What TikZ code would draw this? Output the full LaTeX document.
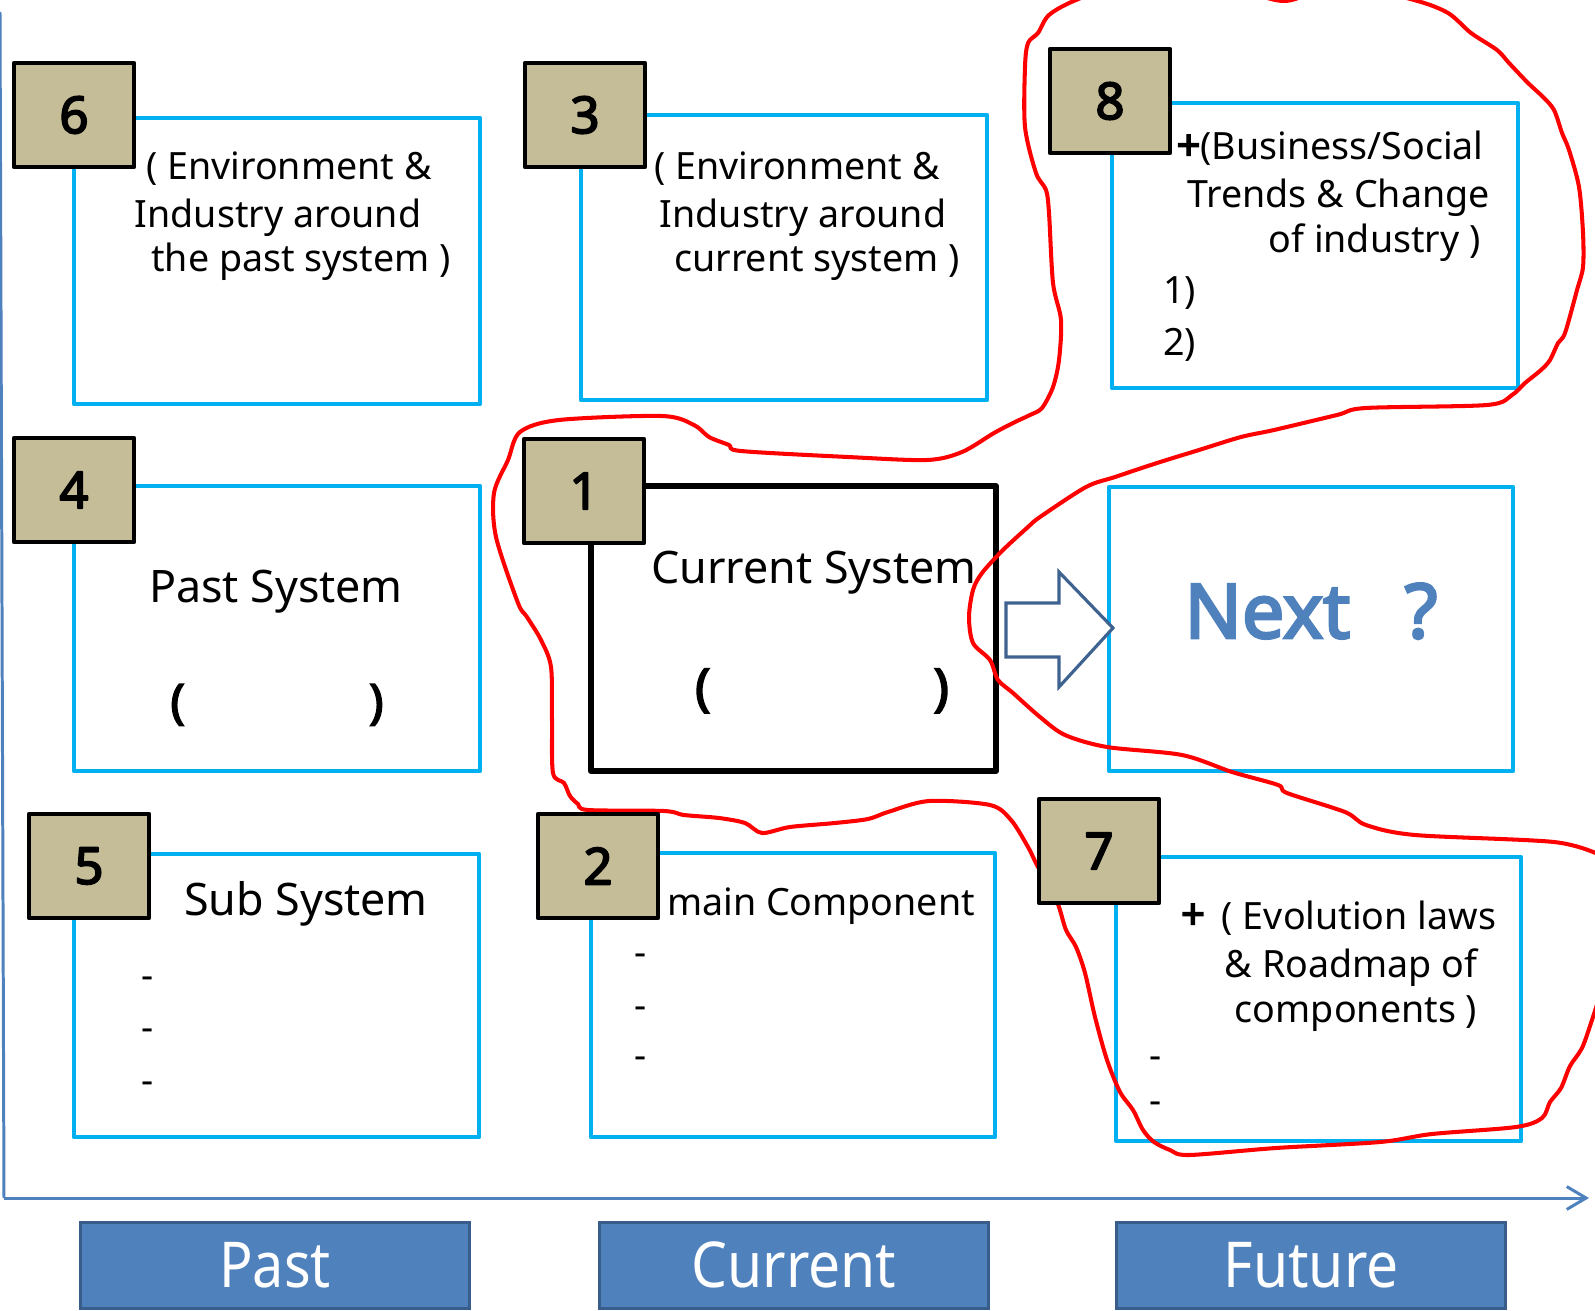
\documentclass[tikz,border=0pt]{standalone}
\usepackage{fontspec}
\setmainfont{Noto Sans}[AutoFakeBold=3.4]
\usepackage{graphicx}
\usetikzlibrary{arrows.meta}
\definecolor{cyanline}{HTML}{00B0F0}
\definecolor{sqfill}{HTML}{C4BD97}
\definecolor{accent}{HTML}{4F81BD}
\definecolor{btnborder}{HTML}{385D8A}
\definecolor{arrowblue}{HTML}{3F6391}
\definecolor{handred}{HTML}{FF0000}
\begin{document}
\begin{tikzpicture}[x=0.02cm,y=-0.02cm,
  bluebox/.style={draw=cyanline, line width=2.4pt, line join=round},
  blackbox/.style={draw=black, line width=3.4pt, line join=round},
  numsq/.style={draw=black, fill=sqfill, line width=2.6pt, line join=round,
    minimum width=2.4cm, minimum height=2.08cm, inner sep=0,
    font=\fontsize{29}{34}\selectfont\bfseries},
  txt/.style={inner sep=0, anchor=base, font=\fontsize{21.4}{26}\selectfont},
  bigtxt/.style={inner sep=0, anchor=base, font=\fontsize{25.5}{30}\selectfont},
  parens/.style={inner sep=0, anchor=base, font=\fontsize{27}{30}\selectfont\bfseries},
  dashtxt/.style={inner sep=0, anchor=mid, font=\fontsize{21.4}{26}\selectfont},
  handline/.style={draw=handred, line width=2.3pt, line join=round, line cap=round},
  axisline/.style={draw=accent, line width=1.7pt},
  btn/.style={draw=btnborder, fill=accent, line width=1.7pt, minimum width=7.78cm,
    minimum height=1.72cm, inner sep=0, text=white, font=\fontsize{36}{40}\selectfont},
  blockarrow/.style={draw=arrowblue, fill=white, line width=1.8pt, line join=miter}
]
\useasboundingbox (0,0) rectangle (1595,1311);
\fill[white] (0,0) rectangle (1595,1311);

% axes
\coordinate (org) at (4,1198);
\coordinate (xend) at (1589,1198);
\coordinate (ytop) at (0,12);
\draw[axisline] (org) -- (ytop);
\draw[axisline, -{Straight Barb[length=11pt,width=13pt]}] (org) -- (xend);

% content boxes
\draw[bluebox] (74,118) rectangle (480,404);
\draw[bluebox] (581,115) rectangle (987,400);
\draw[bluebox] (1112,103) rectangle (1518,388);
\draw[bluebox] (74,486) rectangle (480,771);
\draw[blackbox] (591,486) rectangle (996,771);
\draw[bluebox] (1109,487) rectangle (1513,771);
\draw[bluebox] (74,854) rectangle (479,1137);
\draw[bluebox] (591,853) rectangle (995,1137);
\draw[bluebox] (1116,857) rectangle (1521,1141);

% block arrow
\draw[blockarrow] (1006,603) -- (1059,603) -- (1059,572) -- (1113,628)
  -- (1059,687) -- (1059,657) -- (1006,657) -- cycle;

% texts
\node[txt] (t6a) at (289,180) {( Environment \&};
\node[txt] (t6b) at (278,228) {Industry around};
\node[txt] (t6c) at (301,272) {the past system )};

\node[txt] (t3a) at (797,180) {( Environment \&};
\node[txt] (t3b) at (803,228) {Industry around};
\node[txt] (t3c) at (817,272) {current system )};

\node[txt, anchor=base east] (t8a) at (1484,160) {{\fontsize{24}{26}\selectfont\bfseries +}(Business/Social};
\node[txt, anchor=base east] (t8b) at (1490,208) {Trends \& Change};
\node[txt, anchor=base east] (t8c) at (1481,253) {of industry )};
\node[txt, anchor=base west] (t8d) at (1163,303) {1)};
\node[txt, anchor=base west] (t8e) at (1163,355) {2)};

\node[bigtxt] (t4a) at (276,602) {Past System};
\node[parens] (t4b) at (277,718) {(\hspace{105pt})};

\node[bigtxt] (t1a) at (814,583) {Current System};
\node[parens, font=\fontsize{29}{32}\selectfont\bfseries] (t1b) at (822,705) {(\hspace{127pt})};

\node[inner sep=0, anchor=base, text=accent, font=\fontsize{43}{50}\selectfont\bfseries]
  (tnext) at (1311,638) {Next\hspace{31pt}?};

\node[bigtxt] (t5a) at (306,915) {Sub System};
\node[dashtxt] (t5b) at (148,984) {-};
\node[dashtxt] (t5c) at (148,1036) {-};
\node[dashtxt] (t5d) at (148,1089) {-};

\node[txt] (t2a) at (821,915) {main Component};
\node[dashtxt] (t2b) at (641,961) {-};
\node[dashtxt] (t2c) at (641,1014) {-};
\node[dashtxt] (t2d) at (641,1064) {-};

\node[txt, font=\fontsize{24}{26}\selectfont\bfseries] (t7p) at (1193,929) {+};
\node[txt] (t7a) at (1359,929) {( Evolution laws};
\node[txt] (t7b) at (1351,977) {\& Roadmap of};
\node[txt] (t7c) at (1356,1022) {components )};
\node[dashtxt] (t7d) at (1156,1064) {-};
\node[dashtxt] (t7e) at (1156,1109) {-};

% hand-drawn red outline
\begin{scope}
\clip (0,0) rectangle (1595,1311);
\draw[handline] plot[smooth, tension=0.5] coordinates {
(1600,995) (1592,1020) (1582,1048) (1570,1066) (1561,1088) (1550,1102) (1542,1118)
(1516,1127) (1432,1134) (1380,1142) (1276,1148) (1189,1155) (1170,1150) (1154,1142)
(1143,1130) (1133,1110) (1120,1092) (1107,1060) (1095,1017) (1085,973) (1076,947)
(1066,930) (1059,907) (1050,885) (1038,867) (1028,847) (1011,820) (990,805) (929,801)
(888,812) (868,819) (835,823) (790,827) (762,833) (745,823) (719,818) (684,815)
(664,811) (588,810) (578,804) (570,796) (564,783) (553,773) (552,720) (551,667)
(541,640) (527,617) (518,603) (496,537) (494,493) (508,460) (520,432) (559,420)
(662,416) (694,425) (709,437) (729,445) (741,451) (848,457) (927,460) (962,452)
(994,433) (1015,422) (1030,415) (1042,408) (1053,387) (1059,360) (1061,320)
(1053,283) (1049,213) (1046,190) (1036,173) (1025,127) (1025,67) (1028,43)
(1038,33) (1049,15) (1076,0) (1130,-18) (1220,-16) (1284,1) (1340,-16) (1414,0)
(1448,13) (1471,33) (1497,50) (1509,63) (1528,83) (1543,97) (1554,110) (1562,133)
(1569,150) (1579,187) (1583,233) (1583,267) (1577,290) (1565,333) (1558,343)
(1550,360) (1541,370) (1525,383) (1512,395) (1487,405) (1366,408) (1337,415)
(1274,430) (1241,437) (1199,450) (1157,463) (1115,477) (1086,487) (1040,517)
(1028,527) (1003,550) (982,573) (973,590) (969,617) (973,643) (990,660) (998,680)
(1013,693) (1040,717) (1065,735) (1107,747) (1182,755) (1232,772) (1278,785)
(1287,793) (1345,812) (1366,825) (1415,835) (1554,842) (1600,855)};
\end{scope}

% number squares
\node[numsq] (n6) at (74,115) {6};
\node[numsq] (n3) at (585,115) {3};
\node[numsq] (n8) at (1110,101) {8};
\node[numsq] (n4) at (74,490) {4};
\node[numsq] (n1) at (584,491) {1};
\node[numsq] (n5) at (89,866) {5};
\node[numsq] (n2) at (598,866) {2};
\node[numsq] (n7) at (1099,851) {7};

% time buttons
\node[btn] (bpast) at (275,1265) {\scalebox{0.88}[1]{Past}};
\node[btn] (bcur) at (794,1265) {\scalebox{0.9}[1]{Current}};
\node[btn] (bfut) at (1311,1265) {\scalebox{0.9}[1]{Future}};
\end{tikzpicture}
\end{document}
